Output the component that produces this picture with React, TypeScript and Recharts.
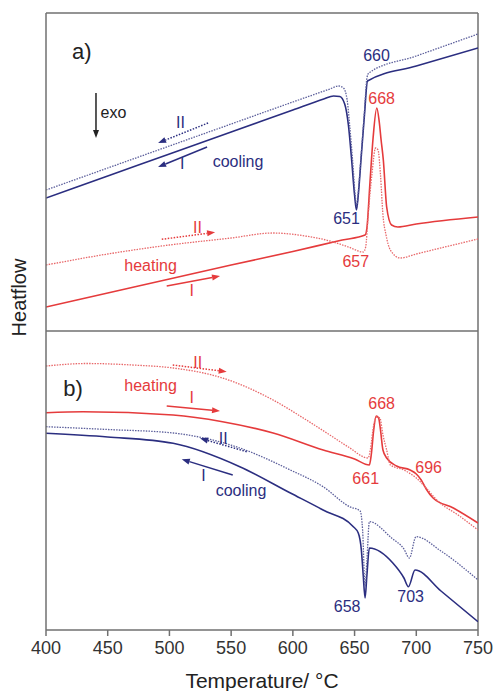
import React from 'react';
import {
  ComposedChart,
  Line,
  XAxis,
  YAxis,
  ReferenceLine,
  ReferenceDot,
} from 'recharts';

// [temperature °C, heat flow (a.u.)]
const coolA1 = [[400, 432], [450, 454], [500, 476], [550, 498], [600, 520], [625, 531], [633, 534], [638, 533.5], [642, 526], [645, 505], [647.5, 472], [650, 435], [651.5, 420], [653, 435], [655.5, 475], [658, 515], [660.5, 549], [700, 564], [750, 582]];
const coolA2 = [[400, 440], [450, 462], [500, 484], [550, 506], [600, 528], [630, 541], [637, 544], [641, 542], [644, 530], [646, 505], [648.5, 468], [650.5, 435], [651.8, 424], [653, 438], [655.5, 478], [658, 518], [660, 552], [661.5, 557], [700, 574], [750, 596]];
const heatA1 = [[400, 323], [450, 337], [500, 351], [550, 365], [600, 378.5], [640, 390], [658.5, 395], [660, 402], [662.5, 448], [665, 492], [668, 522], [670, 508], [671.5, 490], [673.3, 470], [676, 423], [680, 405], [685, 403], [700, 406], [750, 413]];
const heatA2 = [[400, 365], [450, 376], [500, 385], [550, 392], [584, 397], [610, 394], [630, 389], [645, 383], [657, 378], [659, 383], [661, 415], [664, 455], [667, 482], [669, 480], [671, 455], [673, 415], [675.5, 395], [679, 380], [687, 372], [700, 376], [750, 391]];

const heatB1 = [[400, 217.3], [430, 218.3], [503, 215], [543, 208.3], [584, 197], [624.6, 180], [650, 171], [662, 165], [663.5, 175], [665.5, 200], [667.5, 214], [669.5, 212], [671, 200], [673, 180], [676, 172], [684, 164], [695, 160], [700, 156], [704, 150], [708, 141], [713.6, 132], [730, 122], [750, 107]];
const heatB2 = [[400, 264], [433, 266.5], [470, 265], [503, 262], [543, 252], [584, 230], [611, 210], [630, 195], [645, 183], [661, 172], [663, 182], [665.5, 205], [668, 213], [670.5, 212], [673, 195], [676, 180], [679, 165], [690, 160], [700, 152], [708, 142], [716.6, 130], [735, 114], [750, 100]];
const coolB1 = [[400, 196.7], [450, 193], [503, 186.7], [557, 163.3], [598, 137], [624.5, 120], [649, 103.3], [653, 97], [655.5, 80], [657, 55], [658.5, 32], [660, 55], [662, 82], [681, 67], [690, 52], [693.6, 43.3], [699, 60], [720, 39], [750, 8.3]];
const coolB2 = [[400, 203.3], [450, 200.5], [503, 197], [557, 182], [598, 160], [624.5, 143.3], [646, 123.3], [654.5, 119], [656.5, 100], [658.5, 44], [660, 70], [662, 108.3], [680, 92], [690, 81], [694.4, 72], [699.8, 93.3], [720, 79], [750, 50]];

const xTicks = [400, 450, 500, 550, 600, 650, 700, 750];

const BLUE = '#2b2e80';
const BLUE_DOT = '#5d609c';
const RED = '#e53b3c';
const RED_DOT = '#e8686a';
const FRAME = '#707070';

// text annotations: [temperature, heat flow, text, colour, size]
const notes: [number, number, string, string, number][] = [
  [429, 579, 'a)', '#222', 22],
  [454.7, 518, 'exo', '#222', 16],
  [509, 508, 'II', BLUE, 16],
  [510.3, 467, 'I', BLUE, 16],
  [555.6, 469, 'cooling', BLUE, 16],
  [667.8, 575, '660', BLUE, 16],
  [643.5, 412, '651', BLUE, 16],
  [671.9, 532, '668', RED, 16],
  [522.8, 403, 'II', RED, 16],
  [484.7, 365, 'heating', RED, 16],
  [518, 340, 'I', RED, 16],
  [651, 369, '657', RED, 16],
  [421.9, 242, 'b)', '#222', 22],
  [523, 268, 'II', RED, 16],
  [484.7, 245, 'heating', RED, 16],
  [518, 233, 'I', RED, 16],
  [671.9, 227, '668', RED, 16],
  [659, 152, '661', RED, 16],
  [710, 162.5, '696', RED, 16],
  [543.6, 192, 'II', BLUE, 16],
  [527.5, 155, 'I', BLUE, 16],
  [558, 140, 'cooling', BLUE, 16],
  [644, 24, '658', BLUE, 16],
  [695.4, 33.5, '703', BLUE, 16],
];

// arrows: [t1, hf1, t2, hf2, colour, dotted]
const arrows: [number, number, number, number, string, boolean][] = [
  [440.5, 537, 440.5, 492, '#222', false],
  [531.3, 507, 490.8, 487, BLUE, true],
  [530.5, 483, 490.8, 463, BLUE, false],
  [493.8, 390.7, 537, 397.7, RED, true],
  [497.8, 344, 541, 354, RED, false],
  [502.7, 265, 546.4, 258.3, RED, true],
  [497.8, 224, 541, 219, RED, false],
  [562.6, 178.3, 524.8, 191.7, BLUE, true],
  [551.3, 155, 510, 170.7, BLUE, false],
];

const toRows = (pts: number[][]) => pts.map(([t, hf]) => ({ t, hf }));

const Arrow = (color: string, dotted: boolean) => (p: any) => {
  const { x1, y1, x2, y2 } = p;
  const dx = x2 - x1;
  const dy = y2 - y1;
  const len = Math.sqrt(dx * dx + dy * dy) || 1;
  const ux = dx / len;
  const uy = dy / len;
  const hl = 8;
  const hw = 3;
  const bx = x2 - ux * hl;
  const by = y2 - uy * hl;
  const pts = `${x2},${y2} ${bx - uy * hw},${by + ux * hw} ${bx + uy * hw},${by - ux * hw}`;
  return (
    <g>
      <line x1={x1} y1={y1} x2={bx} y2={by} stroke={color} strokeWidth={1.5} strokeDasharray={dotted ? '1.5 1.5' : undefined} />
      <polygon points={pts} fill={color} />
    </g>
  );
};

const series = [
  { data: coolA1, color: BLUE, dotted: false },
  { data: coolA2, color: BLUE_DOT, dotted: true },
  { data: heatA1, color: RED, dotted: false },
  { data: heatA2, color: RED_DOT, dotted: true },
  { data: heatB1, color: RED, dotted: false },
  { data: heatB2, color: RED_DOT, dotted: true },
  { data: coolB1, color: BLUE, dotted: false },
  { data: coolB2, color: BLUE_DOT, dotted: true },
];

export default function App() {
  return (
    <div style={{ position: 'absolute', left: 0, top: 0, fontFamily: '"Liberation Sans", Arial, sans-serif', background: '#fff' }}>
      <ComposedChart width={499} height={691} margin={{ top: 13, right: 21, bottom: 0, left: 0 }}>
        <XAxis
          type="number"
          dataKey="t"
          domain={[400, 750]}
          ticks={xTicks}
          allowDataOverflow
          tickSize={6}
          tickMargin={5}
          height={61}
          stroke={FRAME}
          strokeWidth={1.5}
          tick={{ fill: '#333', fontSize: 18 }}
          label={{ value: 'Temperature/ °C', position: 'insideBottom', offset: 3, fill: '#222', fontSize: 21 }}
        />
        <YAxis
          type="number"
          domain={[0, 617]}
          allowDataOverflow
          width={46}
          tick={false}
          tickLine={false}
          stroke={FRAME}
          strokeWidth={1.5}
          label={{
            content: (props: any) => {
              const vb = props.viewBox || { x: 0, y: 13, width: 46, height: 617 };
              const cx = vb.x + 19;
              const cy = vb.y + vb.height / 2 - 24;
              return (
                <text x={cx} y={cy} transform={`rotate(-90 ${cx} ${cy})`} textAnchor="middle" dominantBaseline="central" fontSize={20} fill="#222">
                  Heatflow
                </text>
              );
            },
          }}
        />
        <ReferenceLine y={617} stroke={FRAME} strokeWidth={1.5} />
        <ReferenceLine y={299} stroke={FRAME} strokeWidth={1.5} />
        <ReferenceLine x={750} stroke={FRAME} strokeWidth={1.5} />
        {series.map((s, i) => (
          <Line
            key={`s-${i}`}
            data={toRows(s.data)}
            dataKey="hf"
            type="monotone"
            stroke={s.color}
            strokeWidth={s.dotted ? 1.3 : 1.6}
            strokeDasharray={s.dotted ? '1.5 1.2' : undefined}
            dot={false}
            activeDot={false}
            isAnimationActive={false}
          />
        ))}
        {arrows.map(([t1, h1, t2, h2, c, d], i) => (
          <ReferenceLine
            key={`a-${i}`}
            segment={[{ x: t1, y: h1 }, { x: t2, y: h2 }]}
            ifOverflow="visible"
            shape={Arrow(c, d)}
          />
        ))}
        {notes.map(([t, hf, text, c, fs], i) => (
          <ReferenceDot
            key={`n-${i}`}
            x={t}
            y={hf}
            r={0}
            fill="none"
            stroke="none"
            ifOverflow="visible"
            label={{ value: text, position: 'center', fill: c, fontSize: fs }}
          />
        ))}
      </ComposedChart>
    </div>
  );
}
